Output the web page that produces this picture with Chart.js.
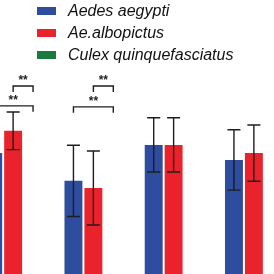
<!DOCTYPE html>
<html>
<head>
<meta charset="utf-8">
<script src="https://cdn.jsdelivr.net/npm/chart.js@4.4.1/dist/chart.umd.min.js"></script>
<style>
    html, body { margin: 0; padding: 0; background: #fff; }
    #wrap { position: relative; width: 274px; height: 274px; overflow: hidden; }
    #chart-box { position: absolute; left: -27px; top: 0; width: 321px; height: 274px; }
    #legend { position: absolute; left: 37px; top: 0px; font-family: "Liberation Sans", Arial, sans-serif; font-style: italic; font-size: 16px; color: #111; }
    #legend div { height: 22px; line-height: 22px; white-space: nowrap; }
    #legend span.sw { display: inline-block; width: 19px; height: 8px; margin-right: 12px; vertical-align: middle; position: relative; top: -1px; }
</style>
</head>
<body>
<div id="wrap">
    <div id="chart-box"><canvas id="bars"></canvas></div>
    <div id="legend"></div>
</div>
<script>
// data (visible part of the figure, axis cut off)
const groups = ['G1', 'G2', 'G3', 'G4'];
const seriesNames = ['Aedes aegypti', 'Ae.albopictus', 'Culex quinquefasciatus'];
const aegyptiMean = [55.3, 47.2, 57.7, 53.3];
const aegyptiErr  = [7.0, 10.4, 7.9, 8.8];
const albopictusMean = [61.8, 45.1, 57.7, 55.3];
const albopictusErr  = [5.5, 10.8, 7.9, 8.2];
const culexMean = [12, 12, 12, 12];   // below the visible crop
const culexErr  = [0, 0, 0, 0];
const colors = ['#2f4d9f', '#e9222b', '#1b7a3d'];

// significance brackets: [group, from series, to series, level, label]
const brackets = [
    [0, 1, 2, 74.9, '**'],
    [0, 0, 2, 69.1, '**'],
    [1, 1, 2, 74.9, '**'],
    [1, 0, 2, 68.8, '**']
];

const means = [aegyptiMean, albopictusMean, culexMean];
const errs = [aegyptiErr, albopictusErr, culexErr];

// legend as html text
let lg = document.getElementById('legend');
seriesNames.forEach(function(n, i) {
    let d = document.createElement('div');
    d.innerHTML = '<span class="sw" style="background:' + colors[i] + '"></span>' + n;
    lg.appendChild(d);
});

const errorBars = {
    id: 'errorBars',
    afterDatasetsDraw(chart) {
        let ctx = chart.ctx;
        let y = chart.scales.y;
        ctx.save();
        ctx.strokeStyle = '#1e1e1e';
        ctx.lineWidth = 1.4;
        means.forEach(function(m, i) {
            let meta = chart.getDatasetMeta(i);
            meta.data.forEach(function(bar, j) {
                if (!errs[i][j]) return;
                let top = y.getPixelForValue(m[j] + errs[i][j]);
                let bot = y.getPixelForValue(m[j] - errs[i][j]);
                ctx.beginPath();
                ctx.moveTo(bar.x, top); ctx.lineTo(bar.x, bot);
                ctx.moveTo(bar.x - 6.5, top); ctx.lineTo(bar.x + 6.5, top);
                ctx.moveTo(bar.x - 6.5, bot); ctx.lineTo(bar.x + 6.5, bot);
                ctx.stroke();
            });
        });
        // brackets
        ctx.font = 'bold 12px "Liberation Sans", Arial, sans-serif';
        ctx.fillStyle = '#1e1e1e';
        ctx.textAlign = 'center';
        ctx.textBaseline = 'bottom';
        brackets.forEach(function(b) {
            let x1 = chart.getDatasetMeta(b[1]).data[b[0]].x;
            let x2 = chart.getDatasetMeta(b[2]).data[b[0]].x;
            let py = y.getPixelForValue(b[3]);
            ctx.beginPath();
            ctx.moveTo(x1, py + 6); ctx.lineTo(x1, py);
            ctx.lineTo(x2, py); ctx.lineTo(x2, py + 6);
            ctx.stroke();
            ctx.fillText(b[4], (x1 + x2) / 2, py + 1);
        });
        ctx.restore();
    }
};

let chart = new Chart(document.getElementById('bars'), {
    type: 'bar',
    data: {
        labels: groups,
        datasets: seriesNames.map(function(n, i) {
            return {
                label: n,
                data: means[i],
                backgroundColor: colors[i],
                barPercentage: 0.9,
                categoryPercentage: 0.745
            };
        })
    },
    plugins: [errorBars],
    options: {
        responsive: true,
        maintainAspectRatio: false,
        animation: false,
        layout: { padding: 0 },
        plugins: { legend: { display: false }, tooltip: { enabled: false } },
        scales: {
            x: { display: false },
            y: { display: false, min: 20, max: 100 }
        }
    }
});
</script>
</body>
</html>
